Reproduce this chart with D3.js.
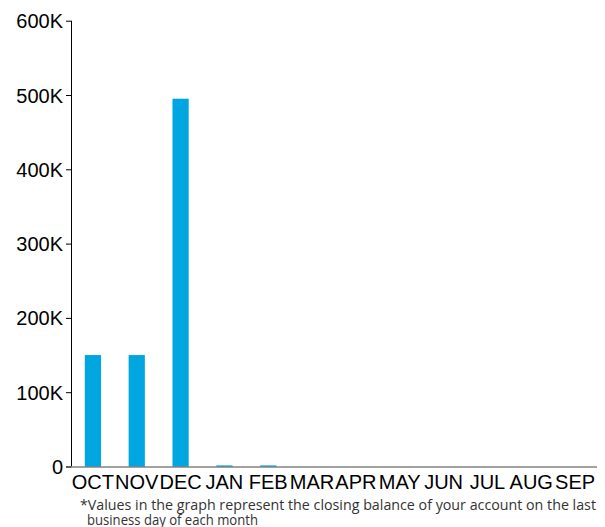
<!DOCTYPE html>
<html><head><meta charset="utf-8">
<script src="https://cdnjs.cloudflare.com/ajax/libs/d3/7.8.5/d3.min.js"></script>
<style>body{margin:0;background:#fff}svg{display:block}</style>
</head><body>
<svg id="c" width="605" height="527"></svg>
<script>
const months = ["OCT","NOV","DEC","JAN","FEB","MAR","APR","MAY","JUN","JUL","AUG","SEP"];
const balances = [150000, 150000, 495000, 1500, 1500, 0, 0, 0, 0, 0, 0, 0];
const yTicks = [0, 100000, 200000, 300000, 400000, 500000, 600000];
const yTickLabels = ["0","100K","200K","300K","400K","500K","600K"];
const footnoteLines = ["*Values in the graph represent the closing balance of your account on the last","business day of each month"];

(function(){
const svg = d3.select("#c");
const mL = 71, mR = 597, mT = 20.7, mB = 466.5;
const x = d3.scaleBand().domain(months).range([mL, mR]).paddingInner(0.63).paddingOuter(0.315);
const y = d3.scaleLinear().domain([0, 600000]).range([mB, mT]);

svg.append("g").selectAll("rect").data(balances).join("rect")
  .attr("x", (d,i) => x(months[i])).attr("width", x.bandwidth())
  .attr("y", d => y(d)).attr("height", d => mB - y(d))
  .attr("fill", "#00a6e0");

const yAxis = svg.append("g").attr("transform", `translate(${mL},0)`)
  .call(d3.axisLeft(y).tickValues(yTicks).tickFormat((d,i) => yTickLabels[i]).tickSize(5).tickPadding(3));
yAxis.select(".domain").attr("d", `M0.5,${mT}V${mB}`).attr("stroke","#000");
yAxis.selectAll(".tick line").attr("stroke","#000");
yAxis.selectAll("text").attr("font-family","'Liberation Sans', Arial, sans-serif").attr("font-size",20).attr("fill","#000").attr("dy","0.35em");

const xAxis = svg.append("g").attr("transform", `translate(0,${mB})`)
  .call(d3.axisBottom(x).tickSize(0).tickPadding(8));
xAxis.select(".domain").attr("d", `M${mL-5},0.5H${mR}`).attr("stroke","#444");
xAxis.selectAll("text").attr("font-family","'Liberation Sans', Arial, sans-serif").attr("font-size",20).attr("fill","#000").attr("dy","0.71em");

const fn = svg.append("g").attr("font-family","'Open Sans', sans-serif").attr("font-size",14.5).attr("fill","#333");
fn.append("text").attr("x",80).attr("y",510).text(footnoteLines[0]).attr("textLength",516).attr("lengthAdjust","spacingAndGlyphs");
fn.append("text").attr("x",87).attr("y",525).text(footnoteLines[1]).attr("textLength",171).attr("lengthAdjust","spacingAndGlyphs");
})();
</script>
</body></html>
